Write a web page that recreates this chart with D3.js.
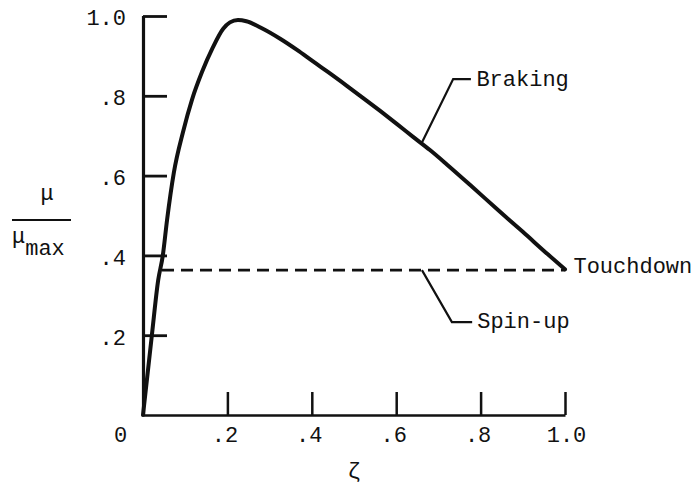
<!DOCTYPE html>
<html>
<head>
<meta charset="utf-8">
<script src="https://cdn.jsdelivr.net/npm/d3@7"></script>
<style>
  html, body { margin: 0; padding: 0; background: #fff; }
  svg { display: block; }
  text { font-family: "Liberation Mono", "Courier New", monospace; font-size: 22px; fill: #111; }
</style>
</head>
<body>
<svg id="chart" width="699" height="486"></svg>
<script>
// ---- data ----
const brakingZeta = [0, 0.021, 0.036, 0.047, 0.057, 0.073, 0.095, 0.116, 0.14, 0.165, 0.19, 0.206, 0.225, 0.245, 0.284, 0.325, 0.365, 0.403, 0.443, 0.483, 0.521, 0.562, 0.602, 0.64, 0.68, 0.72, 0.78, 0.84, 0.9, 0.96, 1.0];
const brakingMu   = [0, 0.2,   0.338, 0.4,   0.489, 0.607, 0.71,  0.79,  0.86, 0.92,  0.968, 0.984, 0.99,  0.987, 0.968, 0.943, 0.915, 0.886, 0.856, 0.825, 0.795, 0.762, 0.729, 0.697, 0.664, 0.628, 0.572, 0.515, 0.459, 0.402, 0.365];
const spinupZeta = [0.045, 1.0];
const spinupMu   = [0.363, 0.363];
const xTicks = [0, 0.2, 0.4, 0.6, 0.8, 1.0];
const xTickLabels = ["0", ".2", ".4", ".6", ".8", "1.0"];
const yTicks = [0.2, 0.4, 0.6, 0.8, 1.0];
const yTickLabels = [".2", ".4", ".6", ".8", "1.0"];
const labels = { braking: "Braking", spinup: "Spin-up", touchdown: "Touchdown", xTitle: "\u03B6", yNum: "\u03BC", yDen: "\u03BC", yDenSub: "max" };

// ---- chart ----
const svg = d3.select("#chart");
const x = d3.scaleLinear().domain([0, 1]).range([143, 565]);
const y = d3.scaleLinear().domain([0, 1]).range([415, 16]);

// x axis
const xAxis = d3.axisBottom(x).tickValues(xTicks).tickSize(-23).tickSizeOuter(0)
  .tickFormat((d, i) => xTickLabels[i]);
const gx = svg.append("g").attr("transform", `translate(0,${y(0)})`).call(xAxis);
gx.select(".domain").attr("stroke", "#111").attr("stroke-width", 2.5);
gx.selectAll(".tick line").attr("stroke", "#111").attr("stroke-width", 2.5);
gx.selectAll(".tick text").attr("y", 27).attr("dy", 0).attr("dx", -3)
  .style("font-size", "22px").style("font-family", "'Liberation Mono', monospace").attr("fill", "#111");
gx.selectAll(".tick").filter(d => d === 0).select("text").attr("dx", -23);
gx.selectAll(".tick").filter(d => d === 1).select("text").attr("dx", 1);

// y axis
const yAxis = d3.axisRight(y).tickValues(yTicks).tickSize(24).tickSizeOuter(0)
  .tickFormat((d, i) => yTickLabels[i]);
const gy = svg.append("g").attr("transform", `translate(${x(0)},0)`).call(yAxis);
gy.select(".domain").attr("stroke", "#111").attr("stroke-width", 3.2)
  .attr("d", `M0.5,${y(0) + 1}V${y(1)}`);
gy.selectAll(".tick line").attr("stroke", "#111").attr("stroke-width", 2.8);
gy.selectAll(".tick text").attr("x", -17).attr("dy", "0.4em").attr("text-anchor", "end")
  .style("font-size", "22px").style("font-family", "'Liberation Mono', monospace").attr("fill", "#111");

// braking curve
const braking = brakingZeta.map((z, i) => [z, brakingMu[i]]);
const line = d3.line().x(d => x(d[0])).y(d => y(d[1])).curve(d3.curveMonotoneX);
svg.append("path").datum(braking).attr("d", line)
  .attr("fill", "none").attr("stroke", "#111").attr("stroke-width", 4)
  .attr("stroke-linejoin", "round").attr("stroke-linecap", "round");

// spin-up dashed line
const spinup = spinupZeta.map((z, i) => [z, spinupMu[i]]);
svg.append("path").datum(spinup).attr("d", d3.line().x(d => x(d[0])).y(d => y(d[1])))
  .attr("fill", "none").attr("stroke", "#111").attr("stroke-width", 2.8)
  .attr("stroke-dasharray", "12,7");

// leaders
const leader = d3.line().x(d => x(d[0])).y(d => y(d[1]));
svg.append("path").datum([[0.661, 0.683], [0.735, 0.842], [0.777, 0.842]]).attr("d", leader)
  .attr("fill", "none").attr("stroke", "#111").attr("stroke-width", 2.2);
svg.append("path").datum([[0.661, 0.363], [0.732, 0.233], [0.78, 0.233]]).attr("d", leader)
  .attr("fill", "none").attr("stroke", "#111").attr("stroke-width", 2.2);

// annotation texts
svg.append("text").attr("x", x(0.79)).attr("y", y(0.825)).text(labels.braking);
svg.append("text").attr("x", x(0.792)).attr("y", y(0.218)).text(labels.spinup);
svg.append("text").attr("x", x(1.02)).attr("y", y(0.356)).text(labels.touchdown);

// axis titles
svg.append("text").attr("x", 354).attr("y", 478).attr("text-anchor", "middle").text(labels.xTitle);
svg.append("text").attr("x", 47).attr("y", 200).attr("text-anchor", "middle").text(labels.yNum);
svg.append("line").attr("x1", 12).attr("x2", 71).attr("y1", 220).attr("y2", 220)
  .attr("stroke", "#111").attr("stroke-width", 2);
const den = svg.append("text").attr("x", 12).attr("y", 243);
den.append("tspan").text(labels.yDen);
den.append("tspan").attr("dy", 12).text(labels.yDenSub);
</script>
</body>
</html>
